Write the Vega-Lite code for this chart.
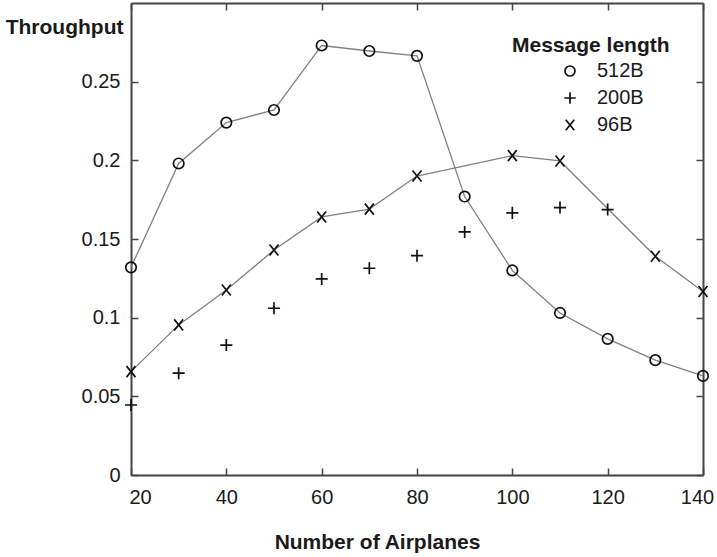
{
  "$schema": "https://vega.github.io/schema/vega-lite/v6.json",
  "width": 572,
  "height": 472,
  "autosize": {"type": "none"},
  "padding": {"left": 131, "top": 3, "right": 14, "bottom": 82},
  "background": "white",
  "config": {
    "view": {"stroke": null},
    "font": "Liberation Sans",
    "axis": {
      "grid": false,
      "domainColor": "#444",
      "domainWidth": 2,
      "tickColor": "#444",
      "tickWidth": 1.5,
      "tickSize": -7,
      "labelFont": "Liberation Sans",
      "labelFontSize": 20,
      "labelColor": "#1a1a1a",
      "titleFont": "Liberation Sans",
      "titleFontSize": 21,
      "titleFontWeight": "bold",
      "titleColor": "#1a1a1a"
    }
  },
  "data": {
    "values": [
      {"n": 20, "v": 0.132, "series": "512B"},
      {"n": 30, "v": 0.198, "series": "512B"},
      {"n": 40, "v": 0.224, "series": "512B"},
      {"n": 50, "v": 0.232, "series": "512B"},
      {"n": 60, "v": 0.273, "series": "512B"},
      {"n": 70, "v": 0.2695, "series": "512B"},
      {"n": 80, "v": 0.2664, "series": "512B"},
      {"n": 90, "v": 0.177, "series": "512B"},
      {"n": 100, "v": 0.130, "series": "512B"},
      {"n": 110, "v": 0.103, "series": "512B"},
      {"n": 120, "v": 0.0865, "series": "512B"},
      {"n": 130, "v": 0.073, "series": "512B"},
      {"n": 140, "v": 0.063, "series": "512B"},
      {"n": 20, "v": 0.0445, "series": "200B"},
      {"n": 30, "v": 0.0647, "series": "200B"},
      {"n": 40, "v": 0.0826, "series": "200B"},
      {"n": 50, "v": 0.106, "series": "200B"},
      {"n": 60, "v": 0.1246, "series": "200B"},
      {"n": 70, "v": 0.1314, "series": "200B"},
      {"n": 80, "v": 0.1394, "series": "200B"},
      {"n": 90, "v": 0.1545, "series": "200B"},
      {"n": 100, "v": 0.1666, "series": "200B"},
      {"n": 110, "v": 0.170, "series": "200B"},
      {"n": 120, "v": 0.1687, "series": "200B"},
      {"n": 20, "v": 0.0657, "series": "96B"},
      {"n": 30, "v": 0.0954, "series": "96B"},
      {"n": 40, "v": 0.1176, "series": "96B"},
      {"n": 50, "v": 0.143, "series": "96B"},
      {"n": 60, "v": 0.164, "series": "96B"},
      {"n": 70, "v": 0.169, "series": "96B"},
      {"n": 80, "v": 0.190, "series": "96B"},
      {"n": 100, "v": 0.203, "series": "96B"},
      {"n": 110, "v": 0.1996, "series": "96B"},
      {"n": 130, "v": 0.139, "series": "96B"},
      {"n": 140, "v": 0.1166, "series": "96B"}
    ]
  },
  "layer": [
    {
      "transform": [{"filter": "datum.series != '200B'"}],
      "mark": {"type": "line", "color": "#808080", "strokeWidth": 1.3},
      "encoding": {
        "x": {
          "field": "n", "type": "quantitative",
          "scale": {"domain": [20, 140], "nice": false, "zero": false},
          "axis": {
            "orient": "bottom",
            "values": [20, 40, 60, 80, 100, 120, 140],
            "labelPadding": 19,
            "labelOffset": {"condition": [{"test": "datum.value == 20", "value": 9}, {"test": "datum.value == 140", "value": -6}], "value": 0},
            "labelFlush": false,
            "title": "Number of Airplanes",
            "titleX": 246,
            "titleY": 73,
            "titleBaseline": "alphabetic"
          }
        },
        "y": {
          "field": "v", "type": "quantitative",
          "scale": {"domain": [0, 0.3], "nice": false},
          "axis": {
            "orient": "left",
            "values": [0, 0.05, 0.1, 0.15, 0.2, 0.25],
            "format": "~g",
            "labelPadding": 18,
            "title": "Throughput",
            "titleAngle": 0,
            "titleAlign": "right",
            "titleBaseline": "alphabetic",
            "titleX": -8,
            "titleY": 30
          }
        },
        "detail": {"field": "series"}
      }
    },
    {
      "mark": {"type": "point", "filled": false, "color": "#111", "strokeWidth": 1.7, "opacity": 1},
      "encoding": {
        "x": {
          "field": "n", "type": "quantitative",
          "axis": {"orient": "top", "values": [20, 40, 60, 80, 100, 120, 140], "labels": false, "title": null}
        },
        "y": {
          "field": "v", "type": "quantitative",
          "axis": {"orient": "right", "values": [0, 0.05, 0.1, 0.15, 0.2, 0.25], "labels": false, "title": null}
        },
        "shape": {
          "field": "series", "type": "nominal",
          "scale": {
            "domain": ["512B", "200B", "96B"],
            "range": ["circle", "M-1.15,0L1.15,0M0,-1.15L0,1.15", "M-0.85,-1.05L0.85,1.05M-0.85,1.05L0.85,-1.05"]
          },
          "legend": {
            "orient": "none",
            "legendX": 381,
            "legendY": 32,
            "padding": 0,
            "title": "Message length",
            "titleFont": "Liberation Sans",
            "titleFontSize": 21,
            "titleFontWeight": "bold",
            "titleColor": "#1a1a1a",
            "titlePadding": 5,
            "labelFont": "Liberation Sans",
            "labelFontSize": 20,
            "labelColor": "#1a1a1a",
            "labelOffset": 17,
            "symbolOffset": 48,
            "symbolSize": 100,
            "symbolStrokeColor": "#111",
            "symbolFillColor": "transparent",
            "symbolStrokeWidth": 1.7,
            "rowPadding": 7
          }
        },
        "size": {"value": 110}
      }
    }
  ],
  "resolve": {"axis": {"x": "independent", "y": "independent"}}
}
